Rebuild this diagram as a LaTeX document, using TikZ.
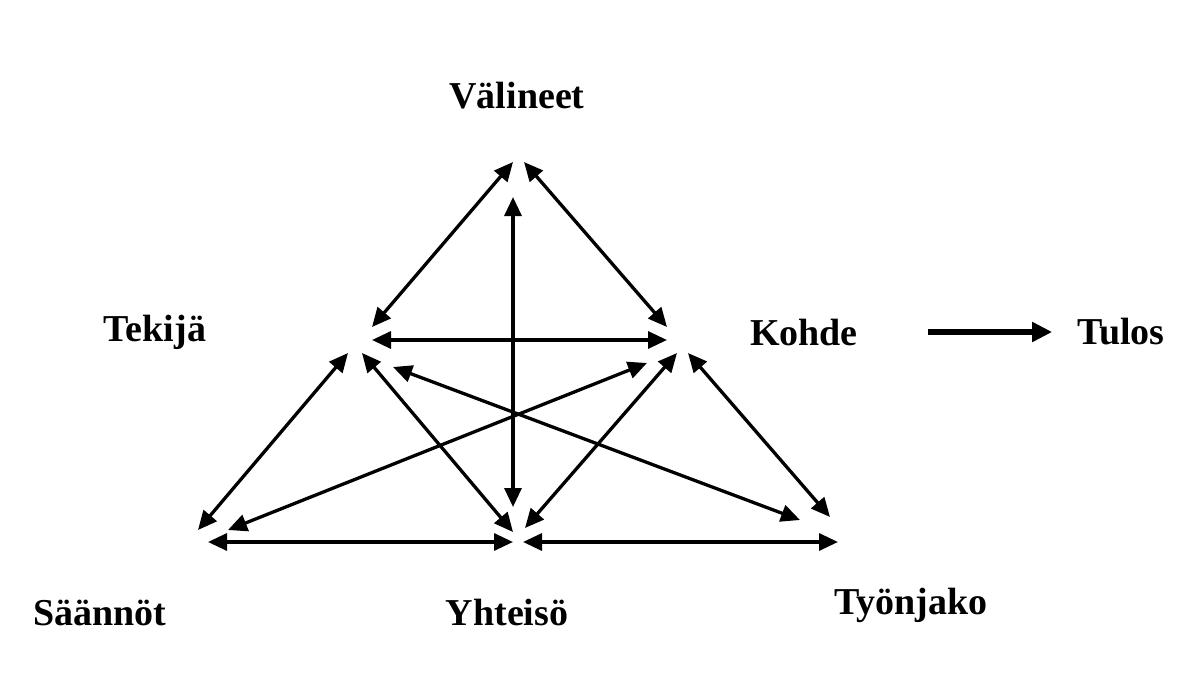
\documentclass[tikz,border=0pt]{standalone}
\usepackage{fontspec}
\setmainfont{Liberation Serif}
\usetikzlibrary{arrows.meta}
\begin{document}
\begin{tikzpicture}[x=1pt,y=-1pt,
  lbl/.style={font=\fontsize{38}{40}\selectfont\bfseries, inner sep=0pt},
  link/.style={line width=3.3pt, {Triangle[length=19pt,width=17pt]}-{Triangle[length=19pt,width=17pt]}},
  outcome/.style={line width=5.5pt, -{Triangle[length=20pt,width=19pt]}}]
\useasboundingbox (0,0) rectangle (1203,680);
% labels of the activity system
\node[lbl] (valineet) at (517,96) {Välineet};
\node[lbl] (tekija)   at (155,332) {Tekijä};
\node[lbl] (kohde)    at (804,332) {Kohde};
\node[lbl] (tulos)    at (1121,332) {Tulos};
\node[lbl] (saannot)  at (100,613) {Säännöt};
\node[lbl] (yhteiso)  at (507,612) {Yhteisö};
\node[lbl] (tyonjako) at (911,605) {Työnjako};
% arrow ends around the corners
\coordinate (vL) at (513,162);
\coordinate (vR) at (524,162);
\coordinate (vC) at (513,197);
\coordinate (tA) at (372,327);
\coordinate (tH) at (372,340);
\coordinate (tS) at (348,353);
\coordinate (tY) at (362,353);
\coordinate (tT) at (393,367);
\coordinate (kA) at (667,327);
\coordinate (kH) at (667,340);
\coordinate (kS) at (647,363);
\coordinate (kY) at (677,353);
\coordinate (kT) at (688,353);
\coordinate (sT) at (198,530);
\coordinate (sK) at (228,530);
\coordinate (sH) at (208,542);
\coordinate (yC) at (513,507);
\coordinate (yT) at (513,532);
\coordinate (yK) at (525,528);
\coordinate (yS) at (513,542);
\coordinate (yW) at (523,542);
\coordinate (wT) at (800,520);
\coordinate (wK) at (830,517);
\coordinate (wY) at (838,542);
% relations
\draw[link] (vL) -- (tA);
\draw[link] (vR) -- (kA);
\draw[link] (vC) -- (yC);
\draw[link] (tH) -- (kH);
\draw[link] (tS) -- (sT);
\draw[link] (tY) -- (yT);
\draw[link] (tT) -- (wT);
\draw[link] (sK) -- (kS);
\draw[link] (sH) -- (yS);
\draw[link] (yK) -- (kY);
\draw[link] (kT) -- (wK);
\draw[link] (yW) -- (wY);
% object turns into outcome
\draw[outcome] ([xshift=70pt]kohde.east) -- ([xshift=-25pt]tulos.west);
\end{tikzpicture}
\end{document}
